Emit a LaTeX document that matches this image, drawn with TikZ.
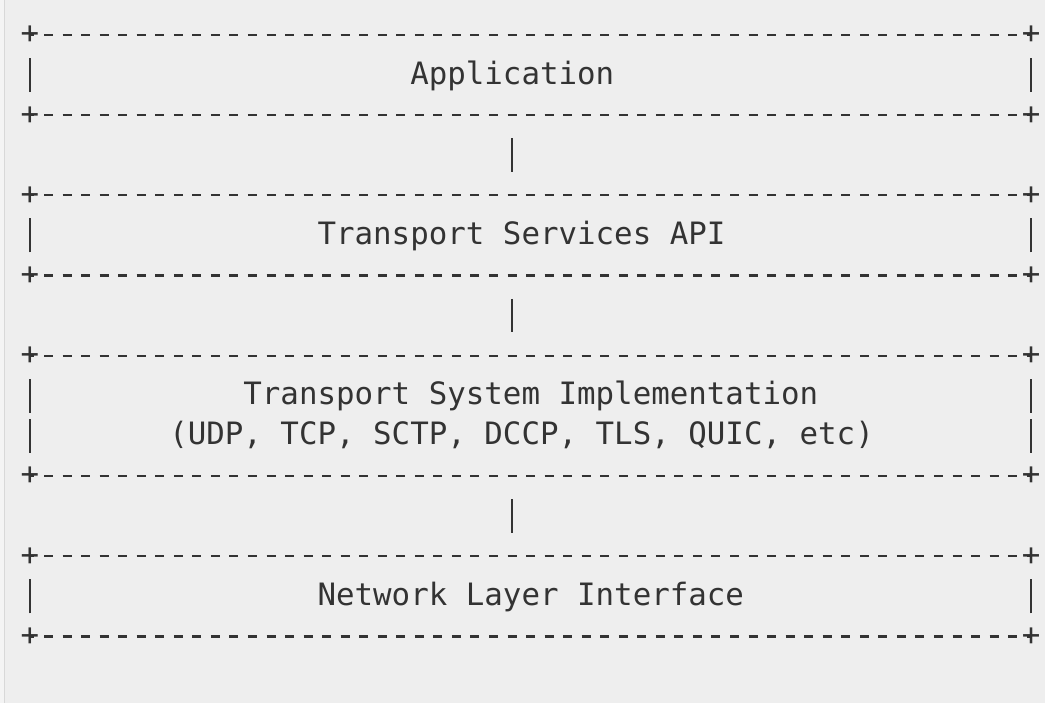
\documentclass[tikz,border=0pt]{standalone}
\usepackage{fontspec}
\usepackage{tikz}
\usetikzlibrary{calc,
  fit
}
\newfontfamily\asciifont{DejaVu Sans Mono}
\definecolor{bgcol}{HTML}{EEEEEE}
\definecolor{stripcol}{HTML}{F4F4F4}
\definecolor{edgecol}{HTML}{D8D8D8}
\definecolor{inkcol}{HTML}{333333}

\tikzstyle{dashrule} = [inkcol, line width=2.2pt, dash pattern=on 9pt off 9.54pt, dash phase=4.5pt]
\tikzstyle{cornerplus} = [font={\asciifont\fontsize{30.8pt}{36pt}\selectfont}, text=inkcol, inner sep=0pt]
\tikzstyle{sidebar} = [inkcol, line width=2pt]
\tikzstyle{connector} = [inkcol, line width=2pt, shorten <=23.1pt, shorten >=23.1pt]
\tikzstyle{layerbox} = [inner sep=0pt]
\tikzstyle{layertext} = [font={\asciifont\fontsize{30.8pt}{36pt}\selectfont}, text=inkcol,
  inner sep=0pt, anchor=base west, yshift=-9pt]

\begin{document}
\begin{tikzpicture}[x=18.54pt, y=-40.1pt]
  \useasboundingbox (-30pt, 35pt) rectangle (1015pt, -668pt);
  \fill[bgcol] (-30pt, 35pt) rectangle (1015pt, -668pt);
  \fill[stripcol] (-30pt, 35pt) rectangle (-26pt, -668pt);
  \draw[edgecol, line width=1.2pt] (-25.5pt, 35pt) -- (-25.5pt, -668pt);

  % application
  \node[layerbox, fit={(0,0) (54,2)}] (app) {};
  \draw[dashrule] (0,0) node[cornerplus] {+} -- (54,0) node[cornerplus] {+};
  \draw[dashrule] (0,2) node[cornerplus] {+} -- (54,2) node[cornerplus] {+};
  \draw[sidebar] (0,1) ++(0pt,-17pt) -- ++(0pt,34pt) (54,1) ++(0pt,-17pt) -- ++(0pt,34pt);
  \node[layertext] (app-text) at (20.5,1) {Application};

  % transport services api
  \node[layerbox, fit={(0,4) (54,6)}] (api) {};
  \draw[dashrule] (0,4) node[cornerplus] {+} -- (54,4) node[cornerplus] {+};
  \draw[dashrule] (0,6) node[cornerplus] {+} -- (54,6) node[cornerplus] {+};
  \draw[sidebar] (0,5) ++(0pt,-17pt) -- ++(0pt,34pt) (54,5) ++(0pt,-17pt) -- ++(0pt,34pt);
  \node[layertext] (api-text) at (15.5,5) {Transport Services API};

  % transport system implementation
  \node[layerbox, fit={(0,8) (54,11)}] (impl) {};
  \draw[dashrule] (0,8) node[cornerplus] {+} -- (54,8) node[cornerplus] {+};
  \draw[dashrule] (0,11) node[cornerplus] {+} -- (54,11) node[cornerplus] {+};
  \draw[sidebar] (0,9) ++(0pt,-17pt) -- ++(0pt,34pt) (54,9) ++(0pt,-17pt) -- ++(0pt,34pt);
  \draw[sidebar] (0,10) ++(0pt,-17pt) -- ++(0pt,34pt) (54,10) ++(0pt,-17pt) -- ++(0pt,34pt);
  \node[layertext] (impl-text) at (11.5,9) {Transport System Implementation};
  \node[layertext] (impl-list) at (7.5,10) {(UDP, TCP, SCTP, DCCP, TLS, QUIC, etc)};

  % network layer interface
  \node[layerbox, fit={(0,13) (54,15)}] (netif) {};
  \draw[dashrule] (0,13) node[cornerplus] {+} -- (54,13) node[cornerplus] {+};
  \draw[dashrule] (0,15) node[cornerplus] {+} -- (54,15) node[cornerplus] {+};
  \draw[sidebar] (0,14) ++(0pt,-17pt) -- ++(0pt,34pt) (54,14) ++(0pt,-17pt) -- ++(0pt,34pt);
  \node[layertext] (netif-text) at (15.5,14) {Network Layer Interface};

  \draw[connector] ($(app.south)+(-1,0)$) -- ($(api.north)+(-1,0)$);
  \draw[connector] ($(api.south)+(-1,0)$) -- ($(impl.north)+(-1,0)$);
  \draw[connector] ($(impl.south)+(-1,0)$) -- ($(netif.north)+(-1,0)$);
\end{tikzpicture}
\end{document}
